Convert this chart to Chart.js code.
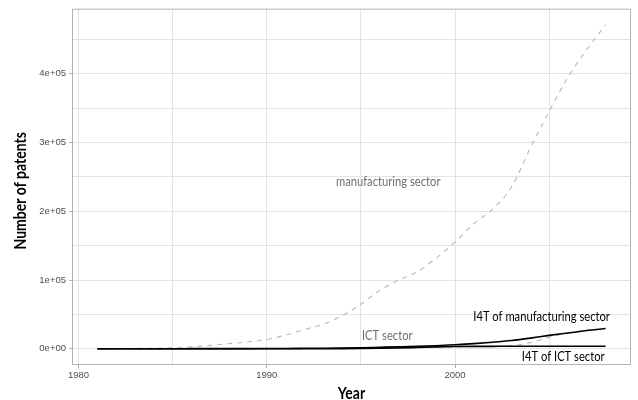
<!DOCTYPE html>
<html>
<head>
<meta charset="utf-8">
<script src="https://cdn.jsdelivr.net/npm/chart.js@4/dist/chart.umd.min.js"></script>
<style>
  html, body { margin: 0; padding: 0; background: #ffffff; }
  canvas { display: block; }
</style>
</head>
<body>
<canvas id="c" width="638" height="400"></canvas>
<script>
// Patent counts per year, 1981-2008
const years = [1981, 1982, 1983, 1984, 1985, 1986, 1987, 1988, 1989, 1990,
               1991, 1992, 1993, 1994, 1995, 1996, 1997, 1998, 1999, 2000,
               2001, 2002, 2003, 2004, 2005, 2006, 2007, 2008];

const manufacturing = [200, 300, 500, 800, 1500, 3000, 5000, 7500, 10000, 13500,
                       20000, 28000, 36000, 48000, 65000, 85000, 100000, 112000, 132000, 155000,
                       182000, 203000, 235000, 292000, 345000, 395000, 435000, 471000];

const ict = [0, 0, 0, 0, 0, 0, 0, 50, 100, 150,
             200, 250, 300, 400, 500, 800, 1200, 1800, 2500, 3000,
             3300, 3500, 4500, 9000, 17000, 23000, 27000, 29000];

const i4tManufacturing = [100, 100, 100, 150, 150, 200, 200, 250, 300, 400,
                          500, 700, 900, 1200, 1600, 2200, 2800, 3500, 4500, 6000,
                          7500, 9500, 12000, 15500, 19500, 23000, 26500, 29500];

const i4tIct = [0, 0, 0, 0, 0, 0, 0, 0, 0, 50,
                50, 100, 100, 200, 400, 700, 1200, 2000, 2800, 3300,
                3500, 3600, 3700, 3700, 3800, 3800, 3800, 3800];

// Tick positions (major ones carry a label)
const xTicks = [1980, 1985, 1990, 1995, 2000, 2005];
const xTickLabels = ['1980', '', '1990', '', '2000', ''];
const yTicks = [0, 50000, 100000, 150000, 200000, 250000, 300000, 350000, 400000, 450000];
const yTickLabels = ['0e+00', '', '1e+05', '', '2e+05', '', '3e+05', '', '4e+05', ''];

// Direct labels placed in data space: [text, year, value, colour]
const seriesLabels = [
  ['manufacturing sector', 1996.45, 244000, '#6e6e6e'],
  ['ICT sector', 1996.4, 19300, '#6e6e6e'],
  ['I4T of manufacturing sector', 2004.6, 46800, '#000000'],
  ['I4T of ICT sector', 2005.75, -10700, '#000000']
];

const axisTitleX = 'Year';
const axisTitleY = 'Number of patents';

const labelFont = 'Lato, "Open Sans", sans-serif';
const squeeze = 0.8;           // horizontal compression for a condensed look
const gridColor = '#e3e3e3';
const frameColor = '#b3b3b3';

const toPoints = arr => years.map((y, i) => ({ x: y, y: arr[i] }));

const xMin = 1981 - 0.05 * (2008 - 1981);
const xMax = 2008 + 0.05 * (2008 - 1981);
const yMin = -0.05 * 471000;
const yMax = 471000 * 1.05;

function condensedText(ctx, text, x, y, font, color, rotate) {
  ctx.save();
  ctx.translate(x, y);
  if (rotate) ctx.rotate(-Math.PI / 2);
  ctx.scale(squeeze, 1);
  ctx.font = font;
  ctx.fillStyle = color;
  ctx.textAlign = 'center';
  ctx.textBaseline = 'middle';
  ctx.fillText(text, 0, 0);
  ctx.restore();
}

const panelFrame = {
  id: 'panelFrame',
  beforeDatasetsDraw(chart) {
    const a = chart.chartArea, ctx = chart.ctx;
    ctx.save();
    ctx.strokeStyle = frameColor;
    ctx.lineWidth = 1;
    ctx.strokeRect(a.left + 0.5, a.top + 0.5, a.right - a.left - 1, a.bottom - a.top - 1);
    ctx.restore();
  }
};

const directLabels = {
  id: 'directLabels',
  afterDatasetsDraw(chart) {
    const ctx = chart.ctx, xs = chart.scales.x, ys = chart.scales.y, a = chart.chartArea;
    seriesLabels.forEach(([text, x, y, col]) => {
      condensedText(ctx, text, xs.getPixelForValue(x), ys.getPixelForValue(y),
                    '14px ' + labelFont, col, false);
    });
    const titleFont = 'bold 17.5px ' + labelFont;
    condensedText(ctx, axisTitleX, (a.left + a.right) / 2, chart.height - 7, titleFont, '#000000', false);
    condensedText(ctx, axisTitleY, 20, (a.top + a.bottom) / 2 + 4, titleFont, '#000000', true);
  }
};

new Chart(document.getElementById('c'), {
  type: 'line',
  data: {
    datasets: [
      { label: 'I4T of manufacturing sector', data: toPoints(i4tManufacturing),
        borderColor: '#000000', borderWidth: 1.6 },
      { label: 'I4T of ICT sector', data: toPoints(i4tIct),
        borderColor: '#000000', borderWidth: 1.6 },
      { label: 'ICT sector', data: toPoints(ict),
        borderColor: '#b8b8b8', borderWidth: 1.1, borderDash: [5, 5] },
      { label: 'manufacturing sector', data: toPoints(manufacturing),
        borderColor: '#b8b8b8', borderWidth: 1.1, borderDash: [5, 5] }
    ]
  },
  options: {
    responsive: false,
    animation: false,
    devicePixelRatio: 1,
    layout: { padding: { left: 0, right: 7, top: 8, bottom: 0 } },
    elements: {
      point: { radius: 0 },
      line: { tension: 0.4, cubicInterpolationMode: 'monotone', fill: false }
    },
    plugins: { legend: { display: false }, tooltip: { enabled: false } },
    scales: {
      x: {
        type: 'linear',
        min: xMin, max: xMax,
        afterBuildTicks: s => { s.ticks = xTicks.map(v => ({ value: v })); },
        afterFit: s => { s.height = 35; },
        grid: {
          color: gridColor,
          lineWidth: 1,
          drawTicks: true,
          tickLength: 3,
          tickColor: c => (c.index % 2 === 0 ? frameColor : 'rgba(0,0,0,0)')
        },
        border: { display: false },
        ticks: {
          padding: 2,
          color: '#4d4d4d',
          font: { family: '"Liberation Sans", Arial, sans-serif', size: 9.5 },
          maxRotation: 0,
          autoSkip: false,
          callback: (v, i) => xTickLabels[i]
        },
        title: { display: false }
      },
      y: {
        type: 'linear',
        min: yMin, max: yMax,
        afterBuildTicks: s => { s.ticks = yTicks.map(v => ({ value: v })); },
        afterFit: s => { s.width = 72; },
        grid: {
          color: gridColor,
          lineWidth: 1,
          drawTicks: true,
          tickLength: 3,
          tickColor: c => (c.index % 2 === 0 ? frameColor : 'rgba(0,0,0,0)')
        },
        border: { display: false },
        ticks: {
          padding: 3,
          color: '#4d4d4d',
          font: { family: '"Liberation Sans", Arial, sans-serif', size: 9.5 },
          autoSkip: false,
          callback: (v, i) => yTickLabels[i]
        },
        title: { display: false }
      }
    }
  },
  plugins: [panelFrame, directLabels]
});
</script>
</body>
</html>
